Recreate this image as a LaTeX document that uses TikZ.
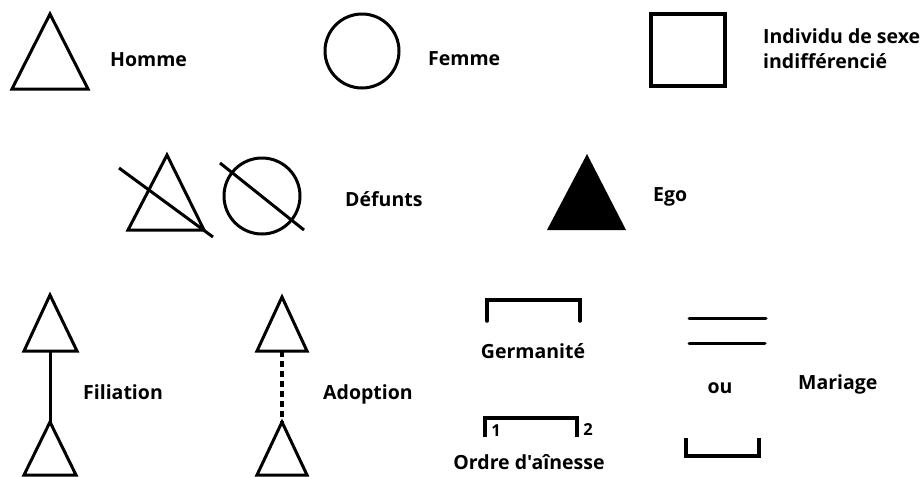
\documentclass[tikz,border=0pt]{standalone}
\usepackage{fontspec}
\setmainfont{Open Sans}[Ligatures=TeXOff]
\begin{document}
\begin{tikzpicture}[x=1pt,y=-1pt,
  sym/.style={line width=3pt,line join=miter},
  lbl/.style={font=\fontsize{19.5}{24}\selectfont\bfseries,inner sep=0pt,anchor=west},
  lblc/.style={font=\fontsize{19.5}{24}\selectfont\bfseries,inner sep=0pt},
  small/.style={font=\fontsize{16.5}{20}\selectfont\bfseries,inner sep=0pt}]
\useasboundingbox (0,0) rectangle (922,477);
% Homme
\draw[sym] (50,14) -- (88,89) -- (12,89) -- cycle;
\node[lbl] (homme) at (110,60) {Homme};
% Femme
\draw[sym] (362,51) circle (37);
\node[lbl] (femme) at (428,59) {Femme};
% Individu
\draw[line width=4pt] (651,14) rectangle (725,86);
\node[lbl,align=left,font=\fontsize{19.5}{25}\selectfont\bfseries] (indiv) at (763,49) {Individu de sexe\\indifférencié};
% Defunts
\draw[sym] (167,155) -- (204,230) -- (128,230) -- cycle;
\draw[sym] (119,168) -- (213,237);
\draw[sym] (262,196) circle (38);
\draw[sym] (220,163) -- (304,230);
\node[lbl] (defunts) at (345,199) {Défunts};
% Ego
\fill (587,154) -- (626,230) -- (547,230) -- cycle;
\node[lbl] (ego) at (653,197) {Ego};
% Filiation
\coordinate (f1) at (50,351);
\coordinate (f2) at (50,422);
\draw[sym] (50,295) -- (77,351) -- (24,351) -- cycle;
\draw[sym] (50,422) -- (76,475) -- (24,475) -- cycle;
\draw[sym] (f1) -- (f2);
\node[lbl] (filiation) at (83,392) {Filiation};
% Adoption
\coordinate (a1) at (282,351);
\coordinate (a2) at (282,422);
\draw[sym] (282,297) -- (307,351) -- (257,351) -- cycle;
\draw[sym] (282,422) -- (307,475) -- (257,475) -- cycle;
\draw[line width=3.5pt,dash pattern=on 6pt off 4pt] (a1) -- (a2);
\node[lbl] (adoption) at (323,394) {Adoption};
% Germanite
\draw[line width=3.5pt,line cap=round] (487,321) -- (487,300) -- (580,300) -- (580,321);
\node[lblc] (germ) at (533,351) {Germanité};
% Ordre d'ainesse
\draw[line width=3.5pt] (485,437) -- (485,418) -- (577,418) -- (577,437);
\node[small] (un) at (496,431) {1};
\node[small] (deux) at (588,430) {2};
\node[lblc] (ordre) at (529,462) {Ordre d'aînesse};
% Mariage
\draw[line width=3pt,line cap=round] (689,318) -- (766,318);
\draw[line width=3pt,line cap=round] (689,343) -- (765,343);
\node[lblc] (ou) at (720,388) {ou};
\draw[line width=3.5pt] (686,438) -- (686,456) -- (759,456) -- (759,438);
\node[lbl] (mariage) at (798,384) {Mariage};
\end{tikzpicture}
\end{document}
